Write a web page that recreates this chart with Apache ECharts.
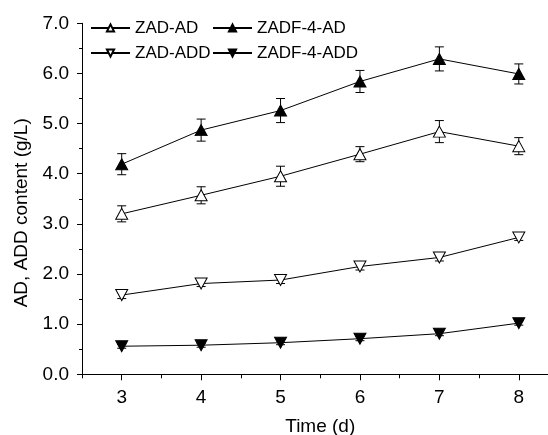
<!DOCTYPE html>
<html>
<head>
<meta charset="utf-8">
<script src="https://cdn.jsdelivr.net/npm/echarts@6/dist/echarts.min.js"></script>
<style>
html,body{margin:0;padding:0;background:#fff;}
#c{width:548px;height:435px;}
</style>
</head>
<body>
<div id="c"></div>
<script>
const days = [3, 4, 5, 6, 7, 8];
const xTickLabels = [3, 4, 5, 6, 7, 8];
const zadAD = [3.20, 3.57, 3.95, 4.39, 4.84, 4.55];
const zadADErr = [0.16, 0.17, 0.20, 0.15, 0.22, 0.17];
const zadf4AD = [4.19, 4.87, 5.26, 5.84, 6.29, 5.99];
const zadf4ADErr = [0.21, 0.22, 0.24, 0.22, 0.24, 0.20];
const zadADD = [1.58, 1.81, 1.88, 2.15, 2.33, 2.73];
const zadADDErr = [0.07, 0.06, 0.07, 0.07, 0.07, 0.06];
const zadf4ADD = [0.56, 0.58, 0.63, 0.71, 0.81, 1.02];
const zadf4ADDErr = [0.04, 0.04, 0.04, 0.04, 0.04, 0.04];

const FONT = "'Liberation Sans', Arial, Helvetica, sans-serif";
const chart = echarts.init(document.getElementById('c'), null, {renderer: 'canvas'});

function pts(vals) { return days.map((d, i) => [d, vals[i]]); }
function errData(vals, errs) { return days.map((d, i) => [d, vals[i] - errs[i], vals[i] + errs[i]]); }

function errSeries(name, vals, errs) {
  return {
    type: 'custom', name: name, silent: true, z: 1,
    xAxisIndex: 0, yAxisIndex: 0,
    encode: {x: 0, y: [1, 2]},
    data: errData(vals, errs),
    renderItem: function (params, api) {
      const x = api.value(0);
      const lo = api.coord([x, api.value(1)]);
      const hi = api.coord([x, api.value(2)]);
      const w = 4.5;
      const st = {stroke: '#000', lineWidth: 1, fill: null};
      return {type: 'group', children: [
        {type: 'line', shape: {x1: lo[0], y1: lo[1], x2: hi[0], y2: hi[1]}, style: st},
        {type: 'line', shape: {x1: hi[0] - w, y1: hi[1], x2: hi[0] + w, y2: hi[1]}, style: st},
        {type: 'line', shape: {x1: lo[0] - w, y1: lo[1], x2: lo[0] + w, y2: lo[1]}, style: st}
      ]};
    }
  };
}

function lineSeries(name, vals, filled, down) {
  return {
    type: 'line', name: name, z: 3,
    xAxisIndex: 0, yAxisIndex: 0,
    data: pts(vals),
    symbol: 'triangle',
    symbolSize: [12, 11],
    symbolRotate: down ? 180 : 0,
    showAllSymbol: true,
    lineStyle: {color: '#000', width: 1},
    itemStyle: {color: filled ? '#000' : '#fff', borderColor: '#000', borderWidth: 1},
    emphasis: {disabled: true},
    animation: false
  };
}

const legendCommon = {
  orient: 'vertical', top: 19.5, itemGap: 8, itemWidth: 39, itemHeight: 9,
  textStyle: {fontFamily: FONT, fontSize: 17, color: '#000', lineHeight: 17},
  padding: 0
};

chart.setOption({
  animation: false,
  backgroundColor: '#fff',
  textStyle: {fontFamily: FONT},
  grid: {left: 82, right: -10.5, top: 23.3, bottom: 60.7, containLabel: false, outerBoundsMode: 'none'},
  legend: [
    Object.assign({}, legendCommon, {left: 90, data: ['ZAD-AD', 'ZAD-ADD']}),
    Object.assign({}, legendCommon, {left: 212, data: ['ZADF-4-AD', 'ZADF-4-ADD']})
  ],
  xAxis: [{
    type: 'value', min: 2.5, max: 8.5, position: 'bottom',
    name: 'Time (d)', nameLocation: 'middle', nameGap: 43,
    nameTextStyle: {fontFamily: FONT, fontSize: 19, color: '#000'},
    axisLine: {show: true, onZero: false, lineStyle: {color: '#000', width: 1}},
    axisTick: {show: true, inside: false, length: 6, customValues: xTickLabels, lineStyle: {color: '#000', width: 1}},
    axisLabel: {show: true, margin: 14, customValues: xTickLabels, fontFamily: FONT, fontSize: 19, color: '#000'},
    splitLine: {show: false}
  }, {
    type: 'value', min: 2.5, max: 8.5, interval: 1, position: 'bottom',
    axisLine: {show: false, onZero: false},
    axisTick: {show: true, inside: false, length: 4, lineStyle: {color: '#000', width: 1}},
    axisLabel: {show: false},
    splitLine: {show: false}
  }],
  yAxis: [{
    type: 'value', min: 0, max: 7, interval: 1,
    name: 'AD, ADD content (g/L)', nameLocation: 'middle', nameGap: 50, nameRotate: 90,
    nameTextStyle: {fontFamily: FONT, fontSize: 19, color: '#000', padding: [0, 28, 0, 0]},
    axisLine: {show: true, onZero: false, lineStyle: {color: '#000', width: 1}},
    axisTick: {show: true, inside: false, length: 5, lineStyle: {color: '#000', width: 1}},
    minorTick: {show: true, splitNumber: 2, length: 3, lineStyle: {color: '#000', width: 1}},
    axisLabel: {margin: 13, fontFamily: FONT, fontSize: 19, color: '#000', formatter: v => v.toFixed(1)},
    splitLine: {show: false}
  }],
  series: [
    errSeries('e1', zadAD, zadADErr),
    errSeries('e2', zadf4AD, zadf4ADErr),
    errSeries('e3', zadADD, zadADDErr),
    errSeries('e4', zadf4ADD, zadf4ADDErr),
    lineSeries('ZAD-AD', zadAD, false, false),
    lineSeries('ZADF-4-AD', zadf4AD, true, false),
    lineSeries('ZAD-ADD', zadADD, false, true),
    lineSeries('ZADF-4-ADD', zadf4ADD, true, true)
  ]
});
</script>
</body>
</html>
